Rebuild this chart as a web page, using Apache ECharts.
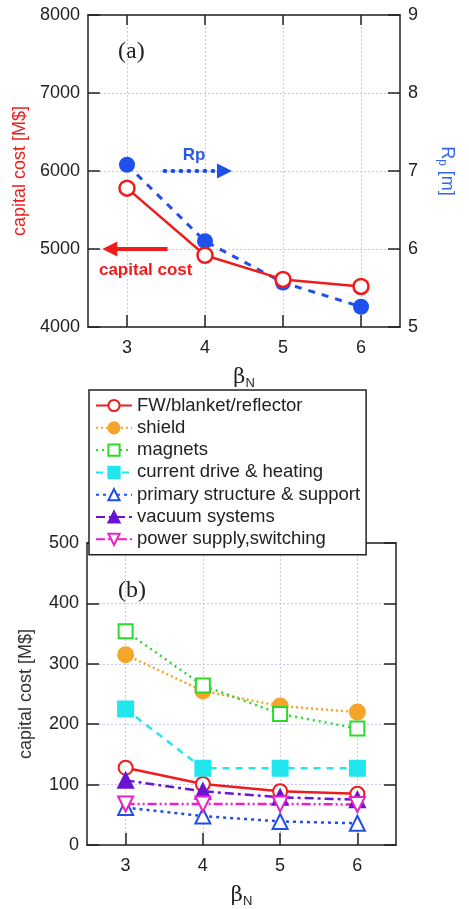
<!DOCTYPE html>
<html>
<head>
<meta charset="utf-8">
<script src="https://cdn.jsdelivr.net/npm/echarts@6/dist/echarts.min.js"></script>
<style>
html,body{margin:0;padding:0;background:#fff}
#chart{width:469px;height:909px}
</style>
</head>
<body>
<div id="chart"></div>
<script>
// beta_N scan
var betaN = [3, 4, 5, 6];

// (a) total capital cost [M$] and major radius Rp [m]
var totalCost = [5780, 4920, 4610, 4520];
var rp = [7.08, 6.1, 5.57, 5.26];

// (b) cost breakdown [M$]
var fwBlanket = [128, 101, 89, 85];
var shield = [315, 255, 230, 220];
var magnets = [354, 264, 217, 193];
var currentDrive = [225, 127, 127, 127];
var primaryStructure = [62, 48, 39, 36];
var vacuum = [107, 89, 79, 75];
var powerSupply = [68, 68, 68, 67];

var names = ['FW/blanket/reflector', 'shield', 'magnets', 'current drive & heating',
  'primary structure & support', 'vacuum systems', 'power supply,switching'];

var FONT = '"Liberation Sans", Arial, sans-serif';
var FRAME = '#222';
var RED = '#f01c1c', BLUE = '#1f50ec';

function pts(vals) {
  return betaN.map(function (b, i) { return [b, vals[i]]; });
}
function plain(v) { return String(v); }

function xAxes(g) {
  var base = {
    type: 'value', gridIndex: g, min: 2.5, max: 6.5,
    axisLine: {show: true, onZero: false, lineStyle: {color: FRAME, width: 1.5}},
    axisTick: {show: true, inside: true, length: 12, customValues: betaN, lineStyle: {color: FRAME, width: 1.5}},
    axisLabel: {customValues: betaN, color: '#222', fontSize: 18, margin: 12, fontFamily: FONT, formatter: plain},
    splitLine: {show: true, lineStyle: {color: '#c6c6f2', width: 1, type: [2, 2]}},
    name: '{b|β}{s|N}',
    nameLocation: 'middle',
    nameGap: 38,
    nameTextStyle: {
      color: '#222',
      rich: {
        b: {fontSize: 21, fontFamily: '"DejaVu Serif", serif', color: '#222'},
        s: {fontSize: 13, fontFamily: FONT, color: '#222', padding: [12, 0, 0, 0], verticalAlign: 'bottom'}
      }
    }
  };
  var top = {
    type: 'value', gridIndex: g, min: 2.5, max: 6.5, position: 'top',
    axisLine: {show: true, onZero: false, lineStyle: {color: FRAME, width: 1.5}},
    axisTick: {show: true, inside: true, length: 10, customValues: betaN, lineStyle: {color: FRAME, width: 1.5}},
    axisLabel: {show: false},
    splitLine: {show: false}
  };
  return [base, top];
}

function yAxis(g, min, max, step, pos, labels, split) {
  return {
    type: 'value', gridIndex: g, min: min, max: max, interval: step, position: pos,
    axisLine: {show: true, onZero: false, lineStyle: {color: FRAME, width: 1.5}},
    axisTick: {show: true, inside: true, length: 12, lineStyle: {color: FRAME, width: 1.5}},
    axisLabel: {show: labels, color: '#222', fontSize: 18, margin: 8, fontFamily: FONT, formatter: plain},
    splitLine: {show: split, lineStyle: {color: '#c6c6f2', width: 1, type: [2, 2]}}
  };
}

var y0 = yAxis(0, 4000, 8000, 1000, 'left', true, true);
y0.name = 'capital cost [M$]';
y0.nameLocation = 'middle';
y0.nameGap = 52;
y0.nameTextStyle = {color: RED, fontSize: 18, fontFamily: FONT};

var y1 = yAxis(0, 5, 9, 1, 'right', true, false);
y1.name = '{r|R}{p|p}{r| [m]}';
y1.nameLocation = 'middle';
y1.nameRotate = -90;
y1.nameGap = 36;
y1.nameTextStyle = {
  rich: {
    r: {fontSize: 18, color: '#3366ee', fontFamily: FONT},
    p: {fontSize: 12, color: '#3366ee', fontFamily: FONT, padding: [9, 0, 0, 0], verticalAlign: 'bottom'}
  }
};

var y2 = yAxis(1, 0, 500, 100, 'left', true, true);
y2.name = 'capital cost [M$]';
y2.nameLocation = 'middle';
y2.nameGap = 52;
y2.nameTextStyle = {color: '#333', fontSize: 18, fontFamily: FONT};

var y3 = yAxis(1, 0, 500, 100, 'right', false, false);

function breakdown(name, vals, color, fill, symbol, size, lineType, width, rotate) {
  return {
    name: name, type: 'line', xAxisIndex: 2, yAxisIndex: 2,
    data: pts(vals), symbol: symbol, symbolSize: size, symbolRotate: rotate || 0,
    itemStyle: {color: fill, borderColor: color, borderWidth: 2},
    lineStyle: {color: color, width: width, type: lineType},
    z: 3
  };
}

var option = {
  animation: false,
  backgroundColor: '#fff',
  grid: [
    {left: 88, top: 15, width: 312, height: 312},
    {left: 87, top: 543, width: 309, height: 309}
  ],
  xAxis: xAxes(0).concat(xAxes(1)),
  yAxis: [y0, y1, y2, y3],
  legend: {
    data: names, orient: 'vertical', left: 89, top: 390,
    padding: [6, 6, 6, 6], itemWidth: 36, itemHeight: 14, itemGap: 3.3,
    backgroundColor: '#fff', borderColor: FRAME, borderWidth: 1.5, borderRadius: 0,
    textStyle: {fontSize: 18.5, color: '#222', fontFamily: FONT},
    z: 20
  },
  graphic: [
    {type: 'text', left: 118, top: 40, style: {text: '(a)', fontSize: 24, fontFamily: '"Liberation Serif", serif', fill: '#222'}},
    {type: 'text', left: 118, top: 579, style: {text: '(b)', fontSize: 24, fontFamily: '"Liberation Serif", serif', fill: '#222'}}
  ],
  series: [
    {
      name: 'total capital cost', type: 'line', xAxisIndex: 0, yAxisIndex: 0,
      data: pts(totalCost), symbol: 'circle', symbolSize: 15,
      itemStyle: {color: '#fff', borderColor: RED, borderWidth: 2.5},
      lineStyle: {color: RED, width: 2.5}, z: 4,
      markLine: {
        silent: true, symbol: ['none', 'triangle'], symbolSize: 15,
        label: {show: false},
        lineStyle: {color: RED, width: 4, type: 'solid'},
        data: [[{coord: [3.52, 5000]}, {coord: [2.78, 5000]}]]
      },
      markPoint: {
        silent: true, symbol: 'circle', symbolSize: 1, itemStyle: {color: 'rgba(0,0,0,0)'},
        label: {show: true, position: 'inside', formatter: 'capital cost', color: RED, fontSize: 17, fontWeight: 'bold', fontFamily: FONT},
        data: [{coord: [3.24, 4730]}]
      }
    },
    {
      name: 'Rp', type: 'line', xAxisIndex: 0, yAxisIndex: 1,
      data: pts(rp), symbol: 'circle', symbolSize: 16,
      itemStyle: {color: BLUE},
      lineStyle: {color: BLUE, width: 3, type: [7, 7]}, z: 3,
      markLine: {
        silent: true, symbol: ['none', 'triangle'], symbolSize: 15,
        label: {show: false},
        lineStyle: {color: BLUE, width: 4, type: [1, 7], cap: 'round'},
        data: [[{coord: [3.48, 7]}, {coord: [4.25, 7]}]]
      },
      markPoint: {
        silent: true, symbol: 'circle', symbolSize: 1, itemStyle: {color: 'rgba(0,0,0,0)'},
        label: {show: true, position: 'inside', formatter: 'Rp', color: '#2a5ae8', fontSize: 17, fontWeight: 'bold', fontFamily: FONT},
        data: [{coord: [3.86, 7.2]}]
      }
    },
    breakdown(names[0], fwBlanket, RED, '#fff', 'circle', 14, 'solid', 2.5),
    breakdown(names[1], shield, '#f5a52a', '#f5a52a', 'circle', 15, [2, 3], 2.5),
    breakdown(names[2], magnets, '#2bd92b', '#fff', 'rect', 14, [2, 4], 2.5),
    breakdown(names[3], currentDrive, '#22e6ee', '#22e6ee', 'rect', 15, [7, 6], 2.5),
    breakdown(names[4], primaryStructure, '#1f4fe6', '#fff', 'triangle', 15, [3, 4], 2.5),
    breakdown(names[5], vacuum, '#6a14d4', '#6a14d4', 'triangle', 15, [9, 4, 3, 4], 2.5),
    breakdown(names[6], powerSupply, '#ec1fc8', '#fff', 'triangle', 15, [9, 3, 2, 3, 2, 3], 2.5, 180)
  ]
};

var myChart = echarts.init(document.getElementById('chart'));
myChart.setOption(option);
</script>
</body>
</html>
